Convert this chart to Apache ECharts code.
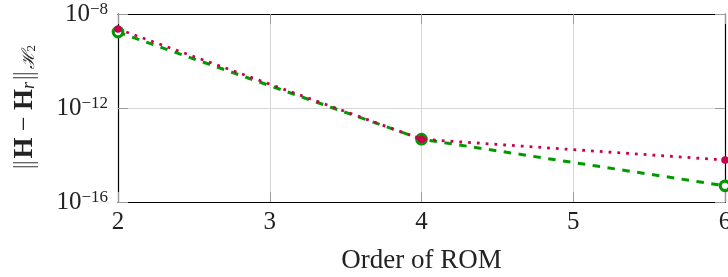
<!DOCTYPE html>
<html>
<head>
<meta charset="utf-8">
<script src="https://cdn.jsdelivr.net/npm/echarts@6/dist/echarts.min.js"></script>
<style>
html,body{margin:0;padding:0;background:#fff;}
#c{width:728px;height:277px;}
</style>
</head>
<body>
<div id="c"></div>
<script>
// ---- data ----
const romOrder = [2, 4, 6];
const errDotted = [2.3e-9, 4.7e-14, 6.1e-15];   // crimson, dotted, filled dots
const errDashed = [1.7e-9, 4.7e-14, 4.9e-16];   // green, dashed, hollow circles
const yTickExponents = [-16, -12, -8];
const xTickLabels = [2, 3, 4, 5, 6];

const FONT = 'Liberation Serif';
const RED = '#c8004f';
const GREEN = '#009a00';

const pairs = (ys) => romOrder.map((x, i) => [x, ys[i]]);

const yMin = Math.pow(10, yTickExponents[0]);
const yMax = Math.pow(10, yTickExponents[yTickExponents.length - 1]);
const yInt = yTickExponents[1] - yTickExponents[0];

const yLabelFmt = (v) => {
  const e = Math.round(Math.log10(v));
  return '{b|10}{s|' + (e < 0 ? '\u2212' + (-e) : e) + '}';
};

const tickStyle = { show: true, inside: true, length: 10, lineStyle: { color: '#9a9a9a', width: 1 } };
const frameLine = { show: true, onZero: false, lineStyle: { color: '#000', width: 1.2 } };
const gridLine = { show: true, lineStyle: { color: '#d6d6d6', width: 1 } };

const chart = echarts.init(document.getElementById('c'), null, { renderer: 'canvas' });
chart.setOption({
  animation: false,
  backgroundColor: '#fff',
  grid: { left: 118, right: 3, top: 14, bottom: 75, containLabel: false, outerBoundsMode: 'none' },
  xAxis: [{
    type: 'value', position: 'bottom',
    min: xTickLabels[0], max: xTickLabels[xTickLabels.length - 1], interval: 1,
    axisLine: frameLine, axisTick: tickStyle, splitLine: gridLine,
    axisLabel: { margin: 8, fontFamily: FONT, fontSize: 25, color: '#222', lineHeight: 25,
      hideOverlap: false, formatter: (v) => String(v) },
    name: 'Order of ROM', nameLocation: 'middle', nameGap: 45,
    nameTextStyle: { fontFamily: FONT, fontSize: 27, color: '#222', lineHeight: 27 }
  }, {
    type: 'value', position: 'top',
    min: xTickLabels[0], max: xTickLabels[xTickLabels.length - 1], interval: 1,
    axisLine: frameLine, axisTick: tickStyle, splitLine: { show: false }, axisLabel: { show: false }
  }],
  yAxis: [{
    type: 'log', logBase: 10, position: 'left',
    min: yMin, max: yMax, interval: yInt,
    axisLine: frameLine, axisTick: tickStyle, splitLine: gridLine, minorTick: { show: false },
    axisLabel: {
      margin: 10, formatter: yLabelFmt, align: 'right', hideOverlap: false,
      rich: {
        b: { fontFamily: FONT, fontSize: 25, color: '#222', lineHeight: 25 },
        s: { fontFamily: FONT, fontSize: 17, color: '#222', lineHeight: 12, verticalAlign: 'top' }
      }
    },
    name: '{n|\u2016}{b|H}{m| \u2212 }{b|H}{s|r}{n|\u2016}{c|\u210B}{d|2}',
    nameLocation: 'middle', nameGap: 80, nameRotate: 90,
    nameTextStyle: {
      rich: {
        n: { fontFamily: 'DejaVu Sans', fontSize: 25, fontWeight: 'lighter', color: '#333', lineHeight: 25 },
        m: { fontFamily: FONT, fontSize: 26, color: '#222', lineHeight: 25 },
        b: { fontFamily: FONT, fontSize: 27, fontWeight: 'bold', color: '#222', lineHeight: 25 },
        s: { fontFamily: FONT, fontSize: 18, fontStyle: 'italic', color: '#222', lineHeight: 12, verticalAlign: 'bottom' },
        c: { fontFamily: 'DejaVu Serif', fontSize: 17, fontStyle: 'italic', color: '#222', lineHeight: 12, verticalAlign: 'bottom' },
        d: { fontFamily: FONT, fontSize: 13, color: '#222', lineHeight: 6, verticalAlign: 'bottom' }
      }
    }
  }, {
    type: 'log', logBase: 10, position: 'right',
    min: yMin, max: yMax, interval: yInt,
    axisLine: frameLine, axisTick: tickStyle, splitLine: { show: false }, axisLabel: { show: false }
  }],
  series: [{
    type: 'line', name: 'dashed', xAxisIndex: 0, yAxisIndex: 0,
    data: pairs(errDashed),
    lineStyle: { color: GREEN, width: 3, type: [7.5, 7.5] },
    symbol: 'circle', symbolSize: 9.5, showAllSymbol: true,
    itemStyle: { color: '#fff', borderColor: GREEN, borderWidth: 3.2 },
    z: 3
  }, {
    type: 'line', name: 'dotted', xAxisIndex: 0, yAxisIndex: 0,
    data: pairs(errDotted),
    lineStyle: { color: RED, width: 2.8, type: [2.8, 6] },
    symbol: 'circle', symbolSize: 7.5, showAllSymbol: true,
    itemStyle: { color: RED, borderWidth: 0 },
    z: 4
  }]
});
</script>
</body>
</html>
